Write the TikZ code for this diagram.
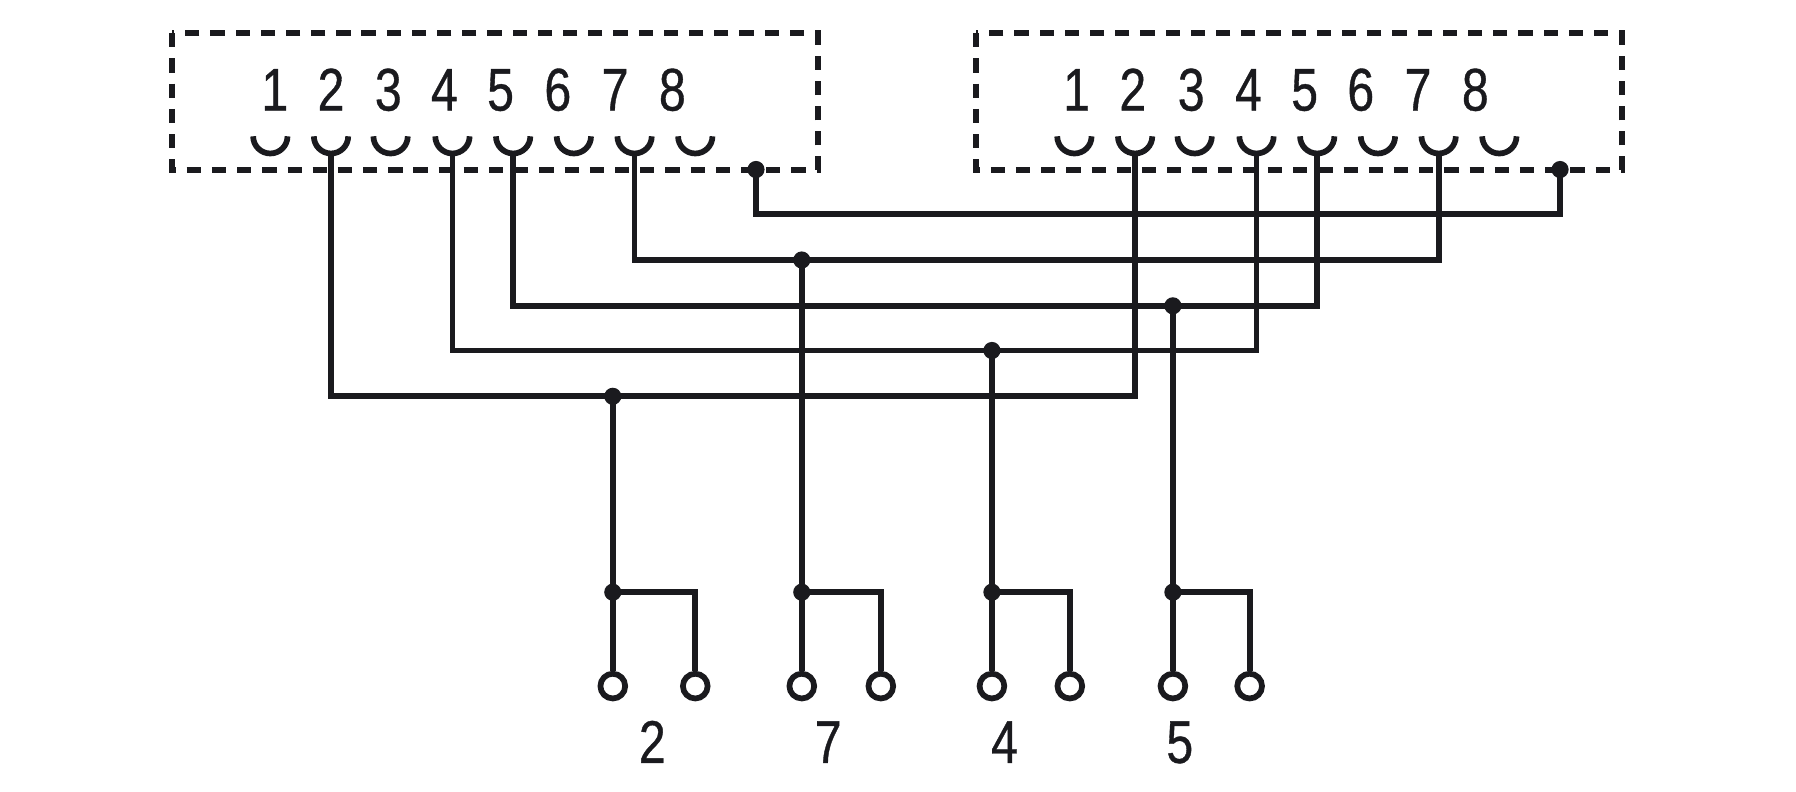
\documentclass[tikz,border=0pt]{standalone}
\usepackage{fontspec}
\setmainfont[FakeStretch=0.8,FakeBold=0.6]{Liberation Sans}
\definecolor{ink}{RGB}{26,26,30}
\begin{document}
\begin{tikzpicture}[x=0.5pt,y=-0.5pt,
  wire/.style={line width=2.5pt, draw=ink},
  boxline/.style={line width=2.6pt, draw=ink, dash pattern=on 6.2pt off 4.8pt},
  digit/.style={anchor=base, inner sep=0pt, text=ink, font=\fontsize{26.3}{30}\selectfont},
  dot/.style={circle, fill=ink, inner sep=0pt, minimum size=7.5pt},
  term/.style={circle, draw=ink, line width=2.5pt, fill=white, inner sep=0pt, minimum size=10.8pt}]
\useasboundingbox (0,0) rectangle (1568,691);
% connector boxes
\draw[boxline] (150,29) rectangle (714,148);
\draw[boxline] (852,29) rectangle (1416,148);
% pin numbers
\foreach \i/\x in {1/240,2/289,3/339,4/388,5/437,6/487,7/537,8/587}
  \node[digit] (Ld\i) at (\x,96.5) {\i};
\foreach \i/\x in {1/940,2/989,3/1040,4/1090,5/1139,6/1188,7/1238,8/1288}
  \node[digit] (Rd\i) at (\x,96.5) {\i};
% contact cups
\foreach \i/\x in {1/236,2/289,3/341,4/395,5/448,6/501,7/554,8/607}{
  \draw[wire] (\x-15,119) arc (180:0:15);
  \coordinate (Lc\i) at (\x,134);}
\foreach \i/\x in {1/938,2/991,3/1043,4/1097,5/1150,6/1203,7/1256,8/1309}{
  \draw[wire] (\x-15,119) arc (180:0:15);
  \coordinate (Rc\i) at (\x,134);}
% junctions
\coordinate (J2) at (535,346);
\coordinate (J4) at (866,306);
\coordinate (J5) at (1024,267);
\coordinate (J7) at (700,227);
\coordinate (B2) at (535,517);
\coordinate (B7) at (700,517);
\coordinate (B4) at (866,517);
\coordinate (B5) at (1024,517);
\coordinate (G1) at (660,148);
\coordinate (G2) at (1362,148);
% terminals
\node[term] (T2a) at (535,599) {};
\node[term] (T2b) at (607,599) {};
\node[term] (T7a) at (700,599) {};
\node[term] (T7b) at (769,599) {};
\node[term] (T4a) at (866,599) {};
\node[term] (T4b) at (934,599) {};
\node[term] (T5a) at (1024,599) {};
\node[term] (T5b) at (1091,599) {};
% wires
\draw[wire] (G1) -- ++(0,39) -| (G2);
\draw[wire] (Lc7) |- (J7) -| (Rc7);
\draw[wire] (Lc5) |- (J5) -| (Rc5);
\draw[wire] (Lc4) |- (J4) -| (Rc4);
\draw[wire] (Lc2) |- (J2) -| (Rc2);
\foreach \n in {2,7,4,5}{
  \draw[wire] (J\n) -- (B\n) -- (T\n a.north);
  \draw[wire] (B\n) -| (T\n b.north);}
% dots
\foreach \c in {J2,J4,J5,J7,B2,B7,B4,B5,G1,G2}
  \node[dot] at (\c) {};
% labels
\node[digit] (L2) at (569.5,666) {2};
\node[digit] (L7) at (723,666) {7};
\node[digit] (L4) at (877,666) {4};
\node[digit] (L5) at (1030,666) {5};
\end{tikzpicture}
\end{document}
